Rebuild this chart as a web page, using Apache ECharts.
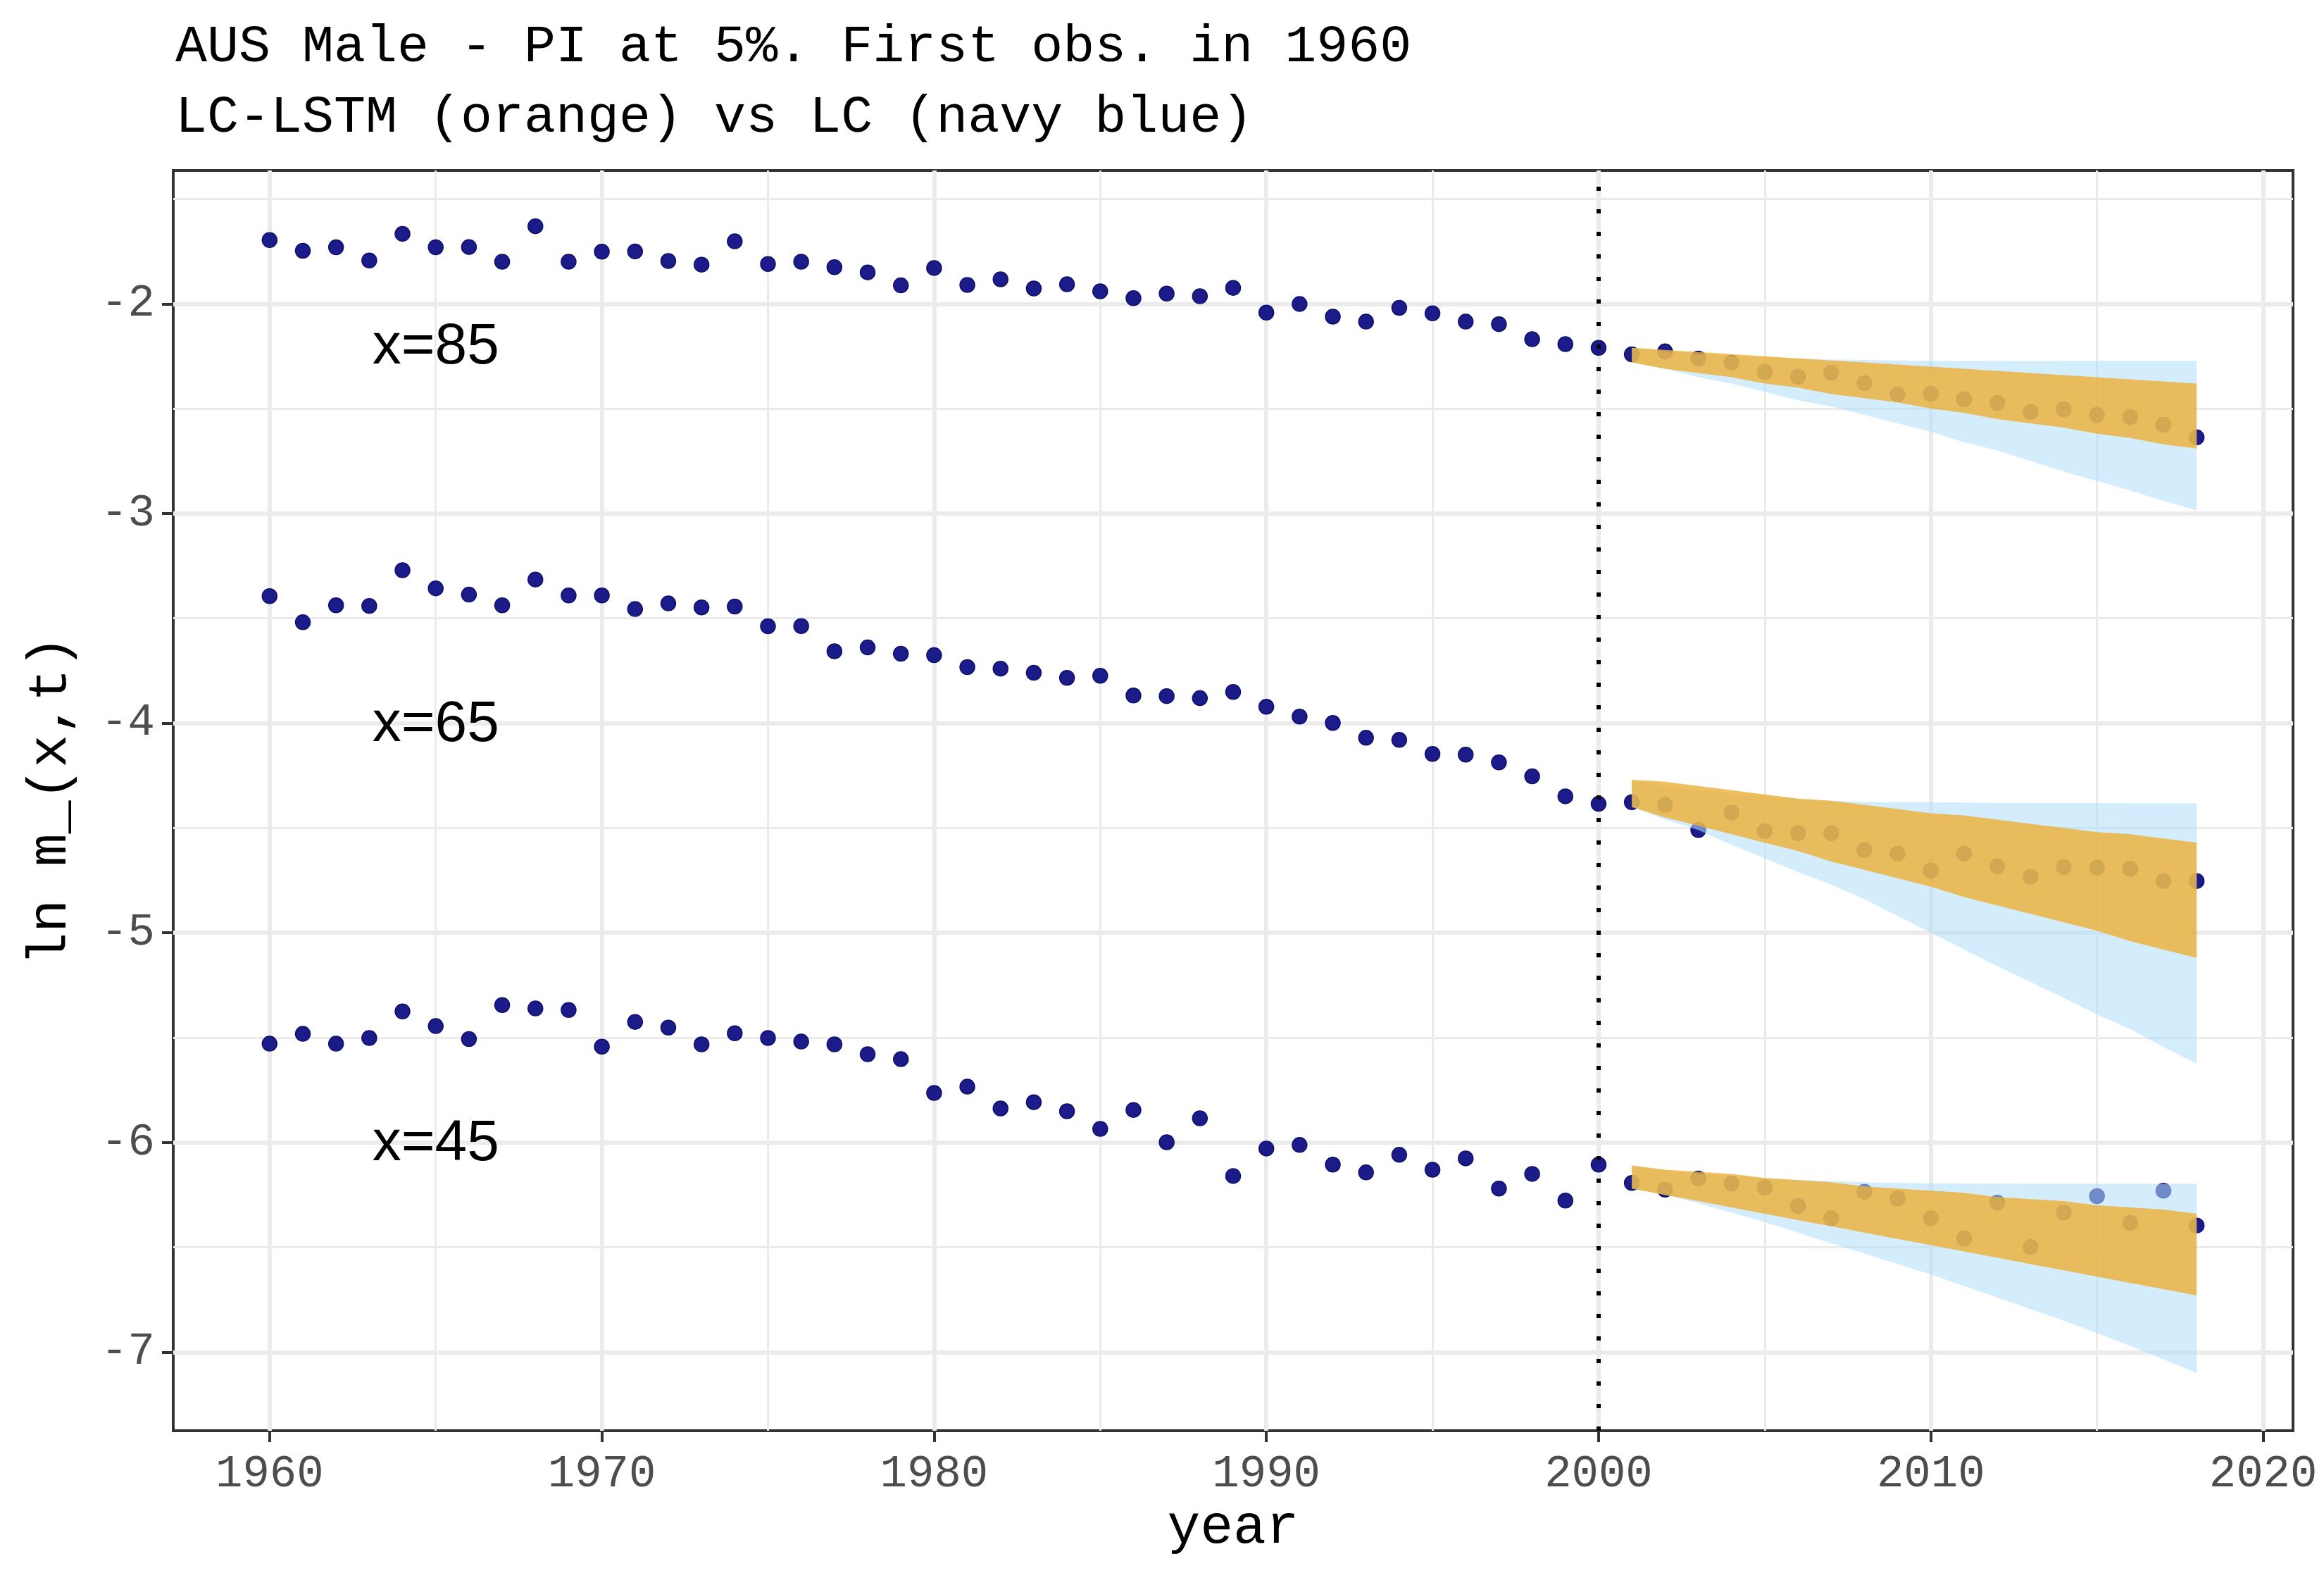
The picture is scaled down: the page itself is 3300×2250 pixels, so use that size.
<!DOCTYPE html>
<html lang="en">
<head>
<meta charset="UTF-8">
<title>AUS Male - LC-LSTM vs LC</title>
<script src="https://cdn.jsdelivr.net/npm/echarts@6.0.0/dist/echarts.min.js"></script>
<style>
  html, body { margin: 0; padding: 0; background: #fff; }
  #main { width: 3300px; height: 2250px; }
</style>
</head>
<body>
<div id="main"></div>
<script type="text/javascript">
// observed years
var years = [1960, 1961, 1962, 1963, 1964, 1965, 1966, 1967, 1968, 1969,
             1970, 1971, 1972, 1973, 1974, 1975, 1976, 1977, 1978, 1979,
             1980, 1981, 1982, 1983, 1984, 1985, 1986, 1987, 1988, 1989,
             1990, 1991, 1992, 1993, 1994, 1995, 1996, 1997, 1998, 1999,
             2000, 2001, 2002, 2003, 2004, 2005, 2006, 2007, 2008, 2009,
             2010, 2011, 2012, 2013, 2014, 2015, 2016, 2017, 2018];

// log death rates, age 85 / 65 / 45
var obs85 = [-1.696, -1.747, -1.730, -1.793, -1.666, -1.730, -1.729, -1.799, -1.630, -1.799,
             -1.751, -1.750, -1.796, -1.813, -1.702, -1.810, -1.799, -1.825, -1.850, -1.912,
             -1.829, -1.910, -1.883, -1.927, -1.907, -1.940, -1.973, -1.951, -1.964, -1.924,
             -2.042, -2.001, -2.061, -2.085, -2.019, -2.045, -2.085, -2.097, -2.169, -2.192,
             -2.210, -2.241, -2.227, -2.261, -2.281, -2.325, -2.348, -2.328, -2.378, -2.432,
             -2.429, -2.455, -2.473, -2.516, -2.503, -2.530, -2.540, -2.577, -2.637];
var obs65 = [-3.394, -3.519, -3.438, -3.441, -3.271, -3.357, -3.387, -3.438, -3.315, -3.391,
             -3.391, -3.456, -3.429, -3.448, -3.444, -3.538, -3.537, -3.657, -3.639, -3.669,
             -3.676, -3.733, -3.740, -3.760, -3.784, -3.774, -3.868, -3.871, -3.881, -3.851,
             -3.922, -3.969, -3.999, -4.070, -4.080, -4.147, -4.150, -4.187, -4.254, -4.349,
             -4.385, -4.377, -4.390, -4.510, -4.427, -4.515, -4.525, -4.525, -4.605, -4.622,
             -4.703, -4.622, -4.683, -4.733, -4.686, -4.689, -4.695, -4.753, -4.753];
var obs45 = [-5.529, -5.482, -5.529, -5.502, -5.375, -5.445, -5.507, -5.345, -5.361, -5.368,
             -5.543, -5.425, -5.452, -5.532, -5.479, -5.502, -5.519, -5.532, -5.579, -5.603,
             -5.764, -5.734, -5.838, -5.808, -5.851, -5.935, -5.845, -5.999, -5.885, -6.160,
             -6.029, -6.012, -6.106, -6.143, -6.059, -6.130, -6.076, -6.220, -6.150, -6.277,
             -6.106, -6.193, -6.225, -6.172, -6.196, -6.215, -6.303, -6.361, -6.235, -6.267,
             -6.361, -6.457, -6.287, -6.498, -6.334, -6.256, -6.384, -6.230, -6.396];

// forecast years and prediction intervals
var fcYears = [2001, 2002, 2003, 2004, 2005, 2006, 2007, 2008, 2009,
               2010, 2011, 2012, 2013, 2014, 2015, 2016, 2017, 2018];

// LC-LSTM (orange)
var lstm85Hi = [-2.21, -2.22, -2.23, -2.24, -2.25, -2.26, -2.27, -2.28, -2.29,
                -2.30, -2.31, -2.32, -2.33, -2.34, -2.35, -2.36, -2.37, -2.38];
var lstm85Lo = [-2.28, -2.31, -2.33, -2.35, -2.38, -2.40, -2.43, -2.45, -2.47,
                -2.50, -2.52, -2.55, -2.57, -2.59, -2.62, -2.64, -2.67, -2.69];
var lstm65Hi = [-4.27, -4.28, -4.30, -4.32, -4.34, -4.36, -4.37, -4.39, -4.41,
                -4.43, -4.44, -4.46, -4.48, -4.50, -4.52, -4.53, -4.55, -4.57];
var lstm65Lo = [-4.40, -4.45, -4.49, -4.53, -4.57, -4.61, -4.66, -4.70, -4.74,
                -4.78, -4.83, -4.87, -4.91, -4.95, -4.99, -5.04, -5.08, -5.12];
var lstm45Hi = [-6.11, -6.13, -6.14, -6.15, -6.17, -6.18, -6.19, -6.21, -6.22,
                -6.23, -6.24, -6.26, -6.27, -6.28, -6.30, -6.31, -6.32, -6.34];
var lstm45Lo = [-6.22, -6.25, -6.28, -6.31, -6.34, -6.37, -6.40, -6.43, -6.46,
                -6.49, -6.52, -6.55, -6.58, -6.61, -6.64, -6.67, -6.70, -6.73];

// LC (light blue)
var lc85Hi = [-2.21, -2.225, -2.24, -2.25, -2.257, -2.262, -2.265, -2.268, -2.27,
              -2.272, -2.273, -2.273, -2.273, -2.272, -2.272, -2.272, -2.272, -2.272];
var lc85Lo = [-2.28, -2.31, -2.35, -2.38, -2.42, -2.46, -2.49, -2.53, -2.57,
              -2.61, -2.66, -2.70, -2.75, -2.80, -2.845, -2.89, -2.94, -2.985];
var lc65Hi = [-4.27, -4.30, -4.32, -4.335, -4.35, -4.36, -4.37, -4.375, -4.378,
              -4.378, -4.379, -4.38, -4.38, -4.381, -4.381, -4.382, -4.382, -4.382];
var lc65Lo = [-4.40, -4.46, -4.51, -4.58, -4.645, -4.71, -4.77, -4.84, -4.92,
              -5.00, -5.08, -5.16, -5.235, -5.31, -5.39, -5.46, -5.545, -5.625];
var lc45Hi = [-6.114, -6.135, -6.15, -6.16, -6.17, -6.178, -6.184, -6.19, -6.193,
              -6.195, -6.196, -6.196, -6.197, -6.197, -6.197, -6.197, -6.197, -6.197];
var lc45Lo = [-6.22, -6.25, -6.29, -6.335, -6.38, -6.43, -6.48, -6.53, -6.58,
              -6.63, -6.685, -6.74, -6.795, -6.85, -6.91, -6.97, -7.035, -7.10];

// ages annotation
var ageLabelYears = [1965, 1965, 1965];
var ageLabelValues = [-2.21, -4.01, -6.01];
var ageLabelTexts = ['x=85', 'x=65', 'x=45'];

// axis ticks
var xTicks = [1960, 1970, 1980, 1990, 2000, 2010, 2020];
var yTicks = [-7, -6, -5, -4, -3, -2];
var cutYear = 2000;

var MONO = "'Liberation Mono', 'DejaVu Sans Mono', monospace";
var ORANGE = 'rgba(236, 175, 52, 0.8)';
var LIGHTBLUE = 'rgba(180, 224, 251, 0.57)';

var myChart = echarts.init(document.getElementById('main'));

function pairs(xs, ys) {
    return xs.map(function (x, i) { return [x, ys[i]]; });
}

// one polygon for the whole ribbon, drawn once
function band(name, lo, hi, color, z) {
    return {
        name: name,
        type: 'custom',
        z: z,
        clip: true,
        silent: true,
        encode: { x: 0, y: [1, 2] },
        data: fcYears.map(function (y, i) { return [y, lo[i], hi[i]]; }),
        renderItem: function (params, api) {
            if (params.dataIndex !== 0) return;
            var pts = [];
            for (var i = 0; i < fcYears.length; i++) pts.push(api.coord([fcYears[i], hi[i]]));
            for (var j = fcYears.length - 1; j >= 0; j--) pts.push(api.coord([fcYears[j], lo[j]]));
            return { type: 'polygon', shape: { points: pts }, style: { fill: color } };
        }
    };
}

function points(name, vals) {
    return {
        name: name,
        type: 'scatter',
        z: 2,
        symbol: 'circle',
        symbolSize: 21,
        silent: true,
        itemStyle: { color: '#1b1b8a', borderColor: '#10106e', borderWidth: 1.5, opacity: 1 },
        data: pairs(years, vals)
    };
}

function plain(v) { return String(v); }

myChart.setOption({
    backgroundColor: '#ffffff',
    animation: false,
    title: {
        text: 'AUS Male - PI at 5%. First obs. in 1960\nLC-LSTM (orange) vs LC (navy blue)',
        left: 244,
        top: 12,
        textStyle: {
            fontFamily: MONO,
            fontSize: 75,
            fontWeight: 'normal',
            color: '#000',
            lineHeight: 100
        }
    },
    grid: {
        left: 246,
        right: 44,
        top: 242,
        bottom: 219,
        containLabel: false,
        outerBoundsMode: 'none',
        show: true,
        borderColor: '#333333',
        borderWidth: 4,
        backgroundColor: '#fff'
    },
    xAxis: {
        type: 'value',
        min: 1957.1,
        max: 2020.9,
        name: 'year',
        nameLocation: 'middle',
        nameGap: 98,
        nameTextStyle: { fontFamily: MONO, fontSize: 78, color: '#000' },
        axisLine: { show: false },
        axisTick: {
            show: true, length: 16, customValues: xTicks,
            lineStyle: { color: '#333333', width: 4 }
        },
        axisLabel: {
            customValues: xTicks, margin: 30, formatter: plain,
            fontFamily: MONO, fontSize: 64, color: '#4d4d4d'
        },
        splitLine: { show: true, lineStyle: { color: '#ebebeb', width: 6 } },
        minorTick: { show: false, splitNumber: 2 },
        minorSplitLine: { show: true, lineStyle: { color: '#ebebeb', width: 3 } }
    },
    yAxis: {
        type: 'value',
        min: -7.375,
        max: -1.364,
        name: 'ln m_(x,t)',
        nameLocation: 'middle',
        nameRotate: 90,
        nameGap: 135,
        nameTextStyle: { fontFamily: MONO, fontSize: 78, color: '#000' },
        axisLine: { show: false },
        axisTick: {
            show: true, length: 16, customValues: yTicks,
            lineStyle: { color: '#333333', width: 4 }
        },
        axisLabel: {
            customValues: yTicks, margin: 26, formatter: plain,
            fontFamily: MONO, fontSize: 64, color: '#4d4d4d'
        },
        splitLine: { show: true, lineStyle: { color: '#ebebeb', width: 6 } },
        minorTick: { show: false, splitNumber: 2 },
        minorSplitLine: { show: true, lineStyle: { color: '#ebebeb', width: 3 } }
    },
    series: [
        points('x=85', obs85),
        points('x=65', obs65),
        points('x=45', obs45),
        band('LC 85', lc85Lo, lc85Hi, LIGHTBLUE, 3),
        band('LC 65', lc65Lo, lc65Hi, LIGHTBLUE, 3),
        band('LC 45', lc45Lo, lc45Hi, LIGHTBLUE, 3),
        band('LC-LSTM 85', lstm85Lo, lstm85Hi, ORANGE, 4),
        band('LC-LSTM 65', lstm65Lo, lstm65Hi, ORANGE, 4),
        band('LC-LSTM 45', lstm45Lo, lstm45Hi, ORANGE, 4),
        {
            name: 'ages',
            type: 'custom',
            z: 6,
            silent: true,
            data: pairs(ageLabelYears, ageLabelValues),
            renderItem: function (params, api) {
                var p = api.coord([api.value(0), api.value(1)]);
                return {
                    type: 'text',
                    x: p[0],
                    y: p[1],
                    style: {
                        text: ageLabelTexts[params.dataIndex],
                        fontFamily: "'Liberation Sans', Arial, sans-serif",
                        fontSize: 82,
                        fill: '#000',
                        align: 'center',
                        verticalAlign: 'middle'
                    }
                };
            },
            markLine: {
                silent: true,
                symbol: ['none', 'none'],
                label: { show: false },
                lineStyle: { color: '#000', width: 6, type: [6, 26], cap: 'butt' },
                data: [{ xAxis: cutYear }]
            }
        }
    ]
});
</script>
</body>
</html>
